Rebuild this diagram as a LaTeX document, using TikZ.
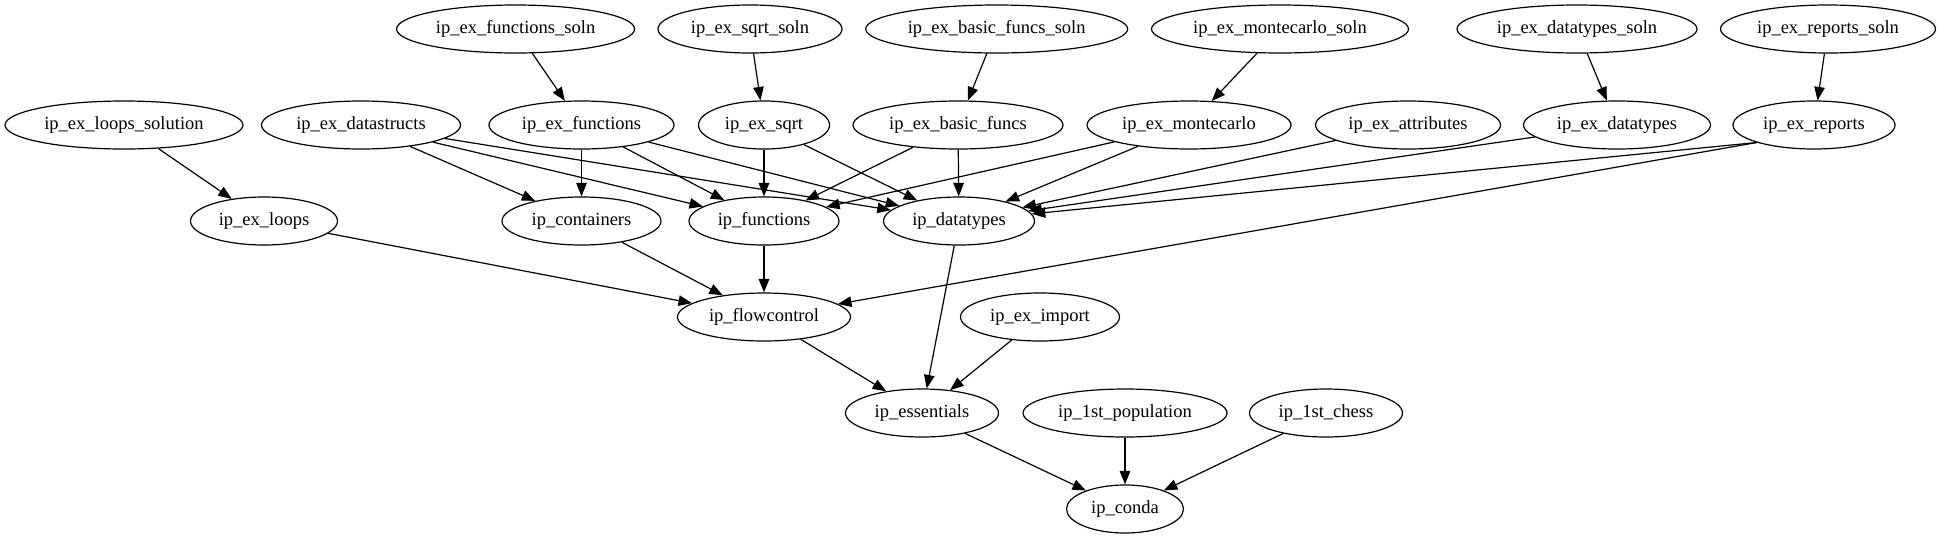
\documentclass[tikz,border=0pt]{standalone}
\usepackage{fontspec}
\setmainfont{Liberation Serif}
\usetikzlibrary{shapes.geometric,arrows.meta}
\tikzset{
  nd/.style={draw, ellipse, line width=1.2pt, inner sep=0pt, minimum height=48pt,
    font=\fontsize{18.5}{20}\selectfont},
  edge/.style={line width=1.2pt, -{Triangle[length=13.5pt,width=10.5pt]}}
}
\begin{document}
\begin{tikzpicture}[x=1pt,y=-1pt]
\useasboundingbox (0,0) rectangle (1941,539);
% row 1
\node[nd, minimum width=238pt] (fsoln) at (515.6,29) {ip\_ex\_functions\_soln};
\node[nd, minimum width=184pt] (sqsoln) at (750,29) {ip\_ex\_sqrt\_soln};
\node[nd, minimum width=262pt] (bfsoln) at (996.7,29) {ip\_ex\_basic\_funcs\_soln};
\node[nd, minimum width=257pt] (mcsoln) at (1280,29) {ip\_ex\_montecarlo\_soln};
\node[nd, minimum width=240pt] (dtsoln) at (1577,29) {ip\_ex\_datatypes\_soln};
\node[nd, minimum width=215pt] (rpsoln) at (1828,29) {ip\_ex\_reports\_soln};
% row 2
\node[nd, minimum width=238pt] (loopsol) at (124,125) {ip\_ex\_loops\_solution};
\node[nd, minimum width=199pt] (dstr) at (361,125) {ip\_ex\_datastructs};
\node[nd, minimum width=185pt] (exfun) at (581.5,125) {ip\_ex\_functions};
\node[nd, minimum width=131pt] (exsqrt) at (764,125) {ip\_ex\_sqrt};
\node[nd, minimum width=210pt] (exbf) at (958,125) {ip\_ex\_basic\_funcs};
\node[nd, minimum width=204pt] (exmc) at (1189,125) {ip\_ex\_montecarlo};
\node[nd, minimum width=185pt] (exattr) at (1408,125) {ip\_ex\_attributes};
\node[nd, minimum width=187pt] (exdt) at (1617,125) {ip\_ex\_datatypes};
\node[nd, minimum width=162pt] (exrep) at (1814,125) {ip\_ex\_reports};
% row 3
\node[nd, minimum width=147pt] (exloops) at (264,221) {ip\_ex\_loops};
\node[nd, minimum width=159pt] (cont) at (581.5,221) {ip\_containers};
\node[nd, minimum width=150pt] (func) at (764,221) {ip\_functions};
\node[nd, minimum width=151pt] (dtypes) at (959,221) {ip\_datatypes};
% row 4
\node[nd, minimum width=173pt] (flow) at (764,317) {ip\_flowcontrol};
\node[nd, minimum width=159pt] (eximp) at (1040,317) {ip\_ex\_import};
% row 5
\node[nd, minimum width=153pt] (ess) at (922,413) {ip\_essentials};
\node[nd, minimum width=204pt] (pop) at (1125,413) {ip\_1st\_population};
\node[nd, minimum width=153pt] (chess) at (1326,413) {ip\_1st\_chess};
% row 6
\node[nd, minimum width=117pt] (conda) at (1125,509) {ip\_conda};
% edges
\draw[edge] (fsoln) -- (exfun);
\draw[edge] (sqsoln) -- (exsqrt);
\draw[edge] (bfsoln) -- (exbf);
\draw[edge] (mcsoln) -- (exmc);
\draw[edge] (dtsoln) -- (exdt);
\draw[edge] (rpsoln) -- (exrep);
\draw[edge] (loopsol) -- (exloops);
\draw[edge] (dstr) -- (cont);
\draw[edge] (dstr) -- (func);
\draw[edge] (dstr) -- (dtypes);
\draw[edge] (exfun) -- (cont);
\draw[edge] (exfun) -- (func);
\draw[edge] (exfun) -- (dtypes);
\draw[edge] (exsqrt) -- (func);
\draw[edge] (exsqrt) -- (dtypes);
\draw[edge] (exbf) -- (func);
\draw[edge] (exbf) -- (dtypes);
\draw[edge] (exmc) -- (func);
\draw[edge] (exmc) -- (dtypes);
\draw[edge] (exattr) -- (dtypes);
\draw[edge] (exdt) -- (dtypes);
\draw[edge] (exrep.197) -- (dtypes);
\draw[edge] (exrep.197) -- (flow);
\draw[edge] (exloops) -- (flow);
\draw[edge] (cont) -- (flow);
\draw[edge] (func) -- (flow);
\draw[edge] (dtypes) -- (ess);
\draw[edge] (flow) -- (ess);
\draw[edge] (eximp) -- (ess);
\draw[edge] (ess) -- (conda);
\draw[edge] (pop) -- (conda);
\draw[edge] (chess) -- (conda);
\end{tikzpicture}
\end{document}
